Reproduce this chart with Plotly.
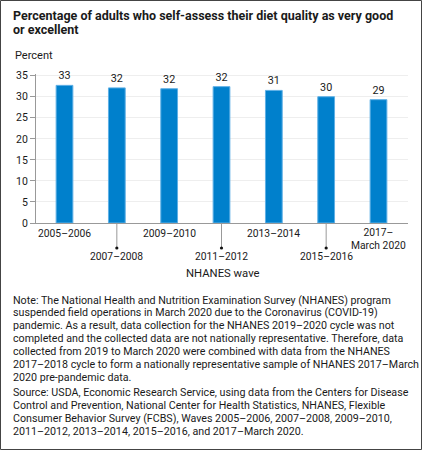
import plotly.graph_objects as go

# ---- data ----
waves = ["2005–2006", "2007–2008", "2009–2010", "2011–2012", "2013–2014", "2015–2016", "2017–<br>March 2020"]
values = [32.7, 32.1, 31.9, 32.4, 31.5, 30.0, 29.3]
value_labels = ["33", "32", "32", "32", "31", "30", "29"]
y_ticks = [0, 5, 10, 15, 20, 25, 30, 35]

title_lines = ["Percentage of adults who self-assess their diet quality as very good",
               "or excellent"]
note_lines = [
    "Note: The National Health and Nutrition Examination Survey (NHANES) program",
    "suspended field operations in March 2020 due to the Coronavirus (COVID-19)",
    "pandemic. As a result, data collection for the NHANES 2019–2020 cycle was not",
    "completed and the collected data are not nationally representative. Therefore, data",
    "collected from 2019 to March 2020 were combined with data from the NHANES",
    "2017–2018 cycle to form a nationally representative sample of NHANES 2017–March",
    "2020 pre-pandemic data.",
]
source_lines = [
    "Source: USDA, Economic Research Service, using data from the Centers for Disease",
    "Control and Prevention, National Center for Health Statistics, NHANES, Flexible",
    "Consumer Behavior Survey (FCBS), Waves 2005–2006, 2007–2008, 2009–2010,",
    "2011–2012, 2013–2014, 2015–2016, and 2017–March 2020.",
]

# ---- geometry ----
W, H = 422, 450
L, R, T, B = 36, 14, 74, 227
PW, PH = W - L - R, H - T - B
FONT = "Roboto"
TXT = "#1a1a1a"
YMAX = 35.4

def px_x(p):
    return (p - L) / PW

def px_y(p):
    return (T + PH - p) / PH

fig = go.Figure()
fig.add_trace(go.Bar(
    x=waves, y=values, text=value_labels, textposition="outside",
    textfont=dict(size=10.8, color=TXT, family=FONT),
    marker=dict(color="#0080cc", line=dict(color="#5fb0e6", width=1)),
    width=0.32, cliponaxis=False, hoverinfo="skip",
))

ann = []
shapes = []
# x labels, staggered
for i, w in enumerate(waves):
    if i % 2 == 0:
        ypos = 233.5 if "<br>" not in w else 239.5
    else:
        ypos = 256
    ann.append(dict(x=w, xref="x", y=px_y(ypos), yref="paper", text=w, showarrow=False,
                    yanchor="middle", xanchor="center", font=dict(size=10.3, color=TXT, family=FONT)))
    if i % 2 == 1:
        shapes.append(dict(type="line", xref="x", yref="paper", x0=w, x1=w, y0=0, y1=px_y(248),
                           line=dict(color="#999999", width=1)))
        shapes.append(dict(type="circle", xref="x", yref="paper", xsizemode="pixel", ysizemode="pixel",
                           xanchor=w, yanchor=px_y(248), x0=-1.6, x1=1.6, y0=-1.6, y1=1.6,
                           fillcolor="#111111", line=dict(width=0)))

ann.append(dict(x=px_x(223), y=px_y(273), xref="paper", yref="paper", text="NHANES wave",
                showarrow=False, xanchor="center", yanchor="middle",
                font=dict(size=11.3, color=TXT, family=FONT)))
ann.append(dict(x=px_x(13), y=px_y(56), xref="paper", yref="paper", text="Percent",
                showarrow=False, xanchor="left", yanchor="middle",
                font=dict(size=11, color=TXT, family=FONT)))
for k, line in enumerate(title_lines):
    ann.append(dict(x=px_x(11), y=px_y(15 + 14.5 * k), xref="paper", yref="paper",
                    text="<b>" + line + "</b>", showarrow=False, xanchor="left", yanchor="middle",
                    font=dict(size=12.5, color=TXT, family=FONT)))
for k, line in enumerate(note_lines):
    ann.append(dict(x=px_x(11), y=px_y(300 + 12.9 * k), xref="paper", yref="paper",
                    text=line, showarrow=False, xanchor="left", yanchor="middle",
                    font=dict(size=10.7, color=TXT, family=FONT)))
for k, line in enumerate(source_lines):
    ann.append(dict(x=px_x(11), y=px_y(392.3 + 13.1 * k), xref="paper", yref="paper",
                    text=line, showarrow=False, xanchor="left", yanchor="middle",
                    font=dict(size=10.7, color=TXT, family=FONT)))

# outer border
shapes.append(dict(type="rect", xref="paper", yref="paper",
                   x0=px_x(0.5), x1=px_x(W - 0.5), y0=px_y(H - 0.5), y1=px_y(0.5),
                   line=dict(color="#444444", width=1)))

fig.update_layout(
    width=W, height=H, margin=dict(l=L, r=R, t=T, b=B),
    paper_bgcolor="white", plot_bgcolor="white", showlegend=False,
    font=dict(family=FONT, color=TXT),
    xaxis=dict(type="category", showticklabels=False, ticks="", showgrid=False,
               showline=True, linecolor="#999999", linewidth=1, fixedrange=True),
    yaxis=dict(range=[0, YMAX], tickvals=y_ticks, ticks="outside", ticklen=5, tickcolor="#999999",
               showline=True, linecolor="#999999", linewidth=1,
               gridcolor="#eeeeee", gridwidth=1, zeroline=False, fixedrange=True,
               tickfont=dict(size=10.5, color=TXT, family=FONT)),
    annotations=ann, shapes=shapes, bargap=0.68,
)
fig.write_html("out.html", config={"displayModeBar": False},
               post_script="document.body.style.margin='0';")
